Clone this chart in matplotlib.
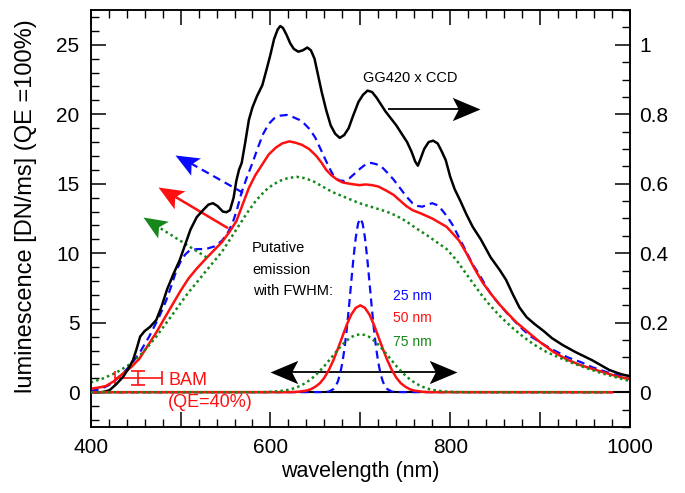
import math
import matplotlib
matplotlib.use("Agg")
import matplotlib.pyplot as plt
from matplotlib.ticker import MultipleLocator, FixedLocator, FixedFormatter
from matplotlib.path import Path
from matplotlib.markers import MarkerStyle
from matplotlib.transforms import Affine2D

plt.rcParams['font.family'] = ['Liberation Sans', 'DejaVu Sans']

# ---------------- data ----------------
# GG420 x CCD (right axis, relative)
wl_black = [400, 412, 416, 421, 428, 436, 442, 447, 451, 455, 460, 466, 473, 479, 485, 492,
            499, 505, 511, 518, 525, 531, 536, 541, 547, 551, 555, 559, 562, 565, 568, 572,
            576, 580, 585, 591, 596, 600, 604, 608, 611, 614, 618, 622, 626, 631, 636, 641,
            645, 649, 653, 657, 662, 667, 672, 677, 682, 687, 692, 698, 703, 708, 713, 718,
            723, 728, 734, 740, 746, 752, 757, 761, 764, 767, 771, 776, 781, 786, 790, 795,
            800, 805, 811, 818, 825, 834, 845, 855, 862, 870, 877, 885, 894, 904, 913, 925,
            939, 958, 977, 990, 1000]
gg420_ccd = [0.0, 0.0, 0.002, 0.006, 0.022, 0.044, 0.068, 0.092, 0.124, 0.16, 0.176, 0.188,
             0.208, 0.248, 0.296, 0.34, 0.38, 0.424, 0.468, 0.504, 0.524, 0.54, 0.544, 0.536,
             0.52, 0.518, 0.524, 0.56, 0.608, 0.64, 0.66, 0.72, 0.784, 0.82, 0.852, 0.884,
             0.932, 0.972, 1.016, 1.044, 1.054, 1.048, 1.028, 1.004, 0.988, 0.98, 0.984,
             0.992, 0.984, 0.96, 0.912, 0.864, 0.812, 0.768, 0.744, 0.732, 0.74, 0.76, 0.796,
             0.836, 0.856, 0.868, 0.864, 0.848, 0.828, 0.808, 0.788, 0.768, 0.744, 0.72,
             0.692, 0.664, 0.652, 0.672, 0.70, 0.72, 0.724, 0.716, 0.696, 0.668, 0.62, 0.584,
             0.552, 0.512, 0.476, 0.44, 0.388, 0.352, 0.324, 0.28, 0.244, 0.216, 0.196,
             0.176, 0.156, 0.136, 0.116, 0.092, 0.064, 0.052, 0.046]

# luminescence (left axis) for putative emission FWHM 25 / 50 / 75 nm
wl_25 = [400, 410, 420, 428, 435, 445, 455, 465, 476, 484, 490, 495, 500, 505, 510, 518, 528,
         538, 546, 552, 558, 563, 568, 574, 580, 586, 592, 598, 604, 611, 618, 625, 632, 638,
         644, 650, 655, 660, 665, 670, 676, 682, 688, 694, 700, 706, 712, 718, 724, 730, 737,
         744, 751, 758, 764, 769, 775, 780, 786, 791, 797, 803, 810, 818, 825, 833, 840, 847,
         855, 863, 872, 881, 890, 900, 910, 919, 931, 944, 958, 974, 987, 1000]
lum_25 = [0.1, 0.2, 0.5, 0.9, 1.3, 2.0, 2.9, 4.0, 5.4, 6.6, 7.7, 8.7, 9.4, 9.9, 10.2, 10.3,
          10.3, 10.5, 10.9, 11.4, 12.2, 13.2, 14.4, 15.5, 16.5, 17.6, 18.6, 19.3, 19.7, 19.9,
          19.95, 19.8, 19.6, 19.3, 18.9, 18.3, 17.6, 16.9, 16.2, 15.6, 15.25, 15.2, 15.4,
          15.75, 16.1, 16.4, 16.5, 16.4, 16.2, 15.8, 15.3, 14.7, 14.1, 13.6, 13.4, 13.35,
          13.5, 13.6, 13.45, 13.1, 12.6, 12.0, 11.1, 10.1, 9.2, 8.4, 7.6, 6.9, 6.3, 5.7, 5.1,
          4.5, 4.0, 3.6, 3.2, 2.9, 2.5, 2.2, 1.8, 1.45, 1.2, 0.94]

wl_50 = [400, 410, 417, 426, 435, 445, 454, 463, 473, 481, 490, 500, 509, 518, 528, 537, 546,
         554, 562, 569, 576, 583, 591, 598, 606, 613, 621, 628, 635, 643, 651, 657, 662, 668,
         674, 680, 688, 699, 706, 713, 720, 729, 737, 744, 751, 758, 766, 773, 780, 788, 796,
         803, 810, 818, 827, 836, 845, 855, 865, 874, 887, 900, 915, 930, 945, 959, 975, 988,
         1000]
lum_50 = [0.25, 0.35, 0.45, 0.8, 1.3, 1.8, 2.4, 3.3, 4.3, 5.2, 6.2, 7.3, 8.2, 8.9, 9.6, 10.2,
          10.8, 11.5, 12.3, 13.5, 14.7, 15.6, 16.4, 17.1, 17.6, 17.9, 18.05, 17.95, 17.8,
          17.5, 17.0, 16.5, 16.0, 15.6, 15.3, 15.1, 15.0, 14.9, 14.95, 14.9, 14.8, 14.5,
          14.2, 13.8, 13.4, 13.1, 12.9, 12.7, 12.5, 12.2, 11.9, 11.4, 10.9, 10.0, 8.9, 7.9,
          7.1, 6.3, 5.6, 5.0, 4.3, 3.6, 2.9, 2.35, 1.95, 1.66, 1.35, 1.1, 0.94]

wl_75 = [400, 414, 428, 441, 454, 464, 473, 482, 490, 500, 509, 518, 528, 537, 546, 556, 565,
         574, 584, 594, 602, 610, 619, 629, 638, 647, 658, 669, 684, 699, 714, 729, 740, 751,
         762, 774, 785, 796, 807, 818, 827, 836, 845, 855, 868, 881, 894, 907, 921, 936, 951,
         967, 983, 1000]
lum_75 = [0.7, 1.0, 1.4, 1.9, 2.6, 3.3, 4.0, 4.8, 5.5, 6.4, 7.2, 7.9, 8.7, 9.4, 10.1, 11.1,
          12.0, 12.9, 13.8, 14.5, 14.9, 15.2, 15.4, 15.5, 15.4, 15.2, 14.8, 14.4, 14.0, 13.6,
          13.3, 13.0, 12.7, 12.3, 11.8, 11.3, 10.8, 10.3, 9.5, 8.5, 7.7, 6.9, 6.2, 5.5, 4.7,
          4.0, 3.4, 2.9, 2.5, 2.1, 1.75, 1.4, 1.1, 0.8]

# putative emission spectra (right axis)
wl_em25 = [400, 660, 665, 670, 672.5, 675, 677.5, 680, 682.5, 685, 687.5, 690, 692.5, 695,
           697.5, 700, 702.5, 705, 707.5, 710, 712.5, 715, 717.5, 720, 722.5, 725, 727.5,
           730, 735, 740, 980]
em_25 = [0.0, 0.0004, 0.002, 0.009, 0.017, 0.031, 0.053, 0.085, 0.128, 0.184, 0.25, 0.321,
         0.39, 0.447, 0.486, 0.5, 0.486, 0.447, 0.39, 0.321, 0.25, 0.184, 0.128, 0.085,
         0.053, 0.031, 0.017, 0.009, 0.002, 0.0004, 0.0]

wl_em50 = [400, 620, 630, 640, 645, 650, 655, 660, 665, 670, 675, 680, 685, 690, 695, 700,
           705, 710, 715, 720, 725, 730, 735, 740, 745, 750, 755, 760, 770, 780, 980]
em_50 = [0.0, 0.0002, 0.0011, 0.0046, 0.0087, 0.016, 0.026, 0.042, 0.064, 0.092, 0.125, 0.16,
         0.195, 0.224, 0.243, 0.25, 0.243, 0.224, 0.195, 0.16, 0.125, 0.092, 0.064, 0.042,
         0.026, 0.016, 0.0087, 0.0046, 0.0011, 0.0002, 0.0]

wl_em75 = [400, 580, 590, 600, 605, 615, 620, 625, 630, 635, 640, 645, 650, 655, 660, 665,
           670, 675, 680, 685, 690, 695, 700, 705, 710, 715, 720, 725, 730, 735, 740, 745,
           750, 755, 760, 765, 770, 775, 780, 785, 795, 800, 810, 820, 980]
em_75 = [0.0, 0.0001, 0.0004, 0.0012, 0.002, 0.0047, 0.0071, 0.0104, 0.0149, 0.0208, 0.0283,
         0.0375, 0.0486, 0.0614, 0.0757, 0.0911, 0.107, 0.1225, 0.137, 0.149, 0.159, 0.1647,
         0.1667, 0.1647, 0.159, 0.149, 0.137, 0.1225, 0.107, 0.0911, 0.0757, 0.0614, 0.0486,
         0.0375, 0.0283, 0.0208, 0.0149, 0.0104, 0.0071, 0.0047, 0.002, 0.0012, 0.0004,
         0.0001, 0.0]

# BAM reference point
bam_x = [453]
bam_y = [1.0]
bam_xerr = [26]
bam_yerr = [0.5]

xticks = [400, 500, 600, 700, 800, 900, 1000]
xtick_labels = ['400', '', '600', '', '800', '', '1000']
yticks_left = [0, 5, 10, 15, 20, 25]
yticks_right = [0, 0.2, 0.4, 0.6, 0.8, 1.0]
ytick_right_labels = ['0', '0.2', '0.4', '0.6', '0.8', '1']

BLUE = '#0a0aff'
RED = '#ff1010'
GREEN = '#16881a'
DASH = (3.6, 2.3)
DOT = (1.0, 1.3)

# ---------------- figure ----------------
fig = plt.figure(figsize=(6.85, 4.93), dpi=100)
ax = fig.add_axes([0.1324, 0.1339, 0.7873, 0.8458])
ax2 = ax.twinx()

ax.set_xlim(400, 1000)
ax.set_ylim(-2.5, 27.5)
ax2.set_ylim(-0.1, 1.1)

# left-axis curves
ax.plot(wl_25, lum_25, color=BLUE, lw=1.6, dashes=DASH, zorder=3)
ax.plot(wl_50, lum_50, color=RED, lw=1.8, zorder=4)
ax.plot(wl_75, lum_75, color=GREEN, lw=1.8, dashes=DOT, zorder=5)

ax.errorbar(bam_x, bam_y, xerr=bam_xerr, yerr=bam_yerr, color=RED, lw=1.2,
            capsize=5, capthick=1.2, zorder=6)

# right-axis curves
ax2.axhline(0, color='black', lw=1.5, zorder=1)
ax2.plot(wl_black, gg420_ccd, color='black', lw=1.8, zorder=2)
ax2.plot(wl_em25, em_25, color=BLUE, lw=1.6, dashes=DASH, zorder=3)
ax2.plot(wl_em50, em_50, color=RED, lw=1.8, zorder=4)
ax2.plot(wl_em75, em_75, color=GREEN, lw=1.8, dashes=DOT, zorder=5)

# stealth-like arrow head (tip at origin, pointing +x)
HEAD = Path([(0, 0), (-1, 0.42), (-0.78, 0), (-1, -0.42), (0, 0)],
            [Path.MOVETO, Path.LINETO, Path.LINETO, Path.LINETO, Path.CLOSEPOLY])


def head(a, tip, tail, color, size):
    p1 = a.transData.transform(tail)
    p2 = a.transData.transform(tip)
    ang = math.degrees(math.atan2(p2[1] - p1[1], p2[0] - p1[0]))
    m = MarkerStyle(HEAD, transform=Affine2D().rotate_deg(ang))
    a.plot([tip[0]], [tip[1]], marker=m, markersize=size, color=color,
           markeredgewidth=0, linestyle='none', zorder=9)


def arrow(a, tip, tail, color, dashes=None, lw=1.6, size=28, frac=0.85, both=False):
    bx = tail[0] + frac * (tip[0] - tail[0])
    by = tail[1] + frac * (tip[1] - tail[1])
    sx = tail[0] + (1 - frac) * (tip[0] - tail[0]) if both else tail[0]
    sy = tail[1] + (1 - frac) * (tip[1] - tail[1]) if both else tail[1]
    kw = dict(color=color, lw=lw, zorder=7, solid_capstyle='butt')
    if dashes is not None:
        kw['dashes'] = dashes
    a.plot([sx, bx], [sy, by], **kw)
    head(a, tip, tail, color, size)
    if both:
        head(a, tail, tip, color, size)


arrow(ax, (833, 20.4), (731, 20.4), 'black', lw=1.3, size=40, frac=0.85)
arrow(ax, (807, 1.46), (600, 1.46), 'black', lw=1.3, size=40, frac=0.92, both=True)
arrow(ax, (494, 17.1), (569.5, 14.35), BLUE, dashes=DASH, size=34, frac=0.78)
arrow(ax, (475, 14.8), (552.8, 11.8), RED, lw=1.8, size=36, frac=0.78)
arrow(ax, (458, 12.6), (529, 9.7), GREEN, dashes=DOT, lw=1.8, size=34, frac=0.78)

# texts
ax.text(703, 22.6, 'GG420 x CCD', fontsize=10.5, ha='left', va='center')
ax.text(579.5, 10.38, 'Putative', fontsize=10.5, ha='left', va='center')
ax.text(579.5, 8.8, 'emission', fontsize=10.5, ha='left', va='center')
ax.text(580.6, 7.28, 'with FWHM:', fontsize=10.5, ha='left', va='center')
ax.text(736, 6.92, '25 nm', fontsize=10, color=BLUE, ha='left', va='center')
ax.text(736, 5.34, '50 nm', fontsize=10, color=RED, ha='left', va='center')
ax.text(736, 3.6, '75 nm', fontsize=10, color=GREEN, ha='left', va='center')
ax.text(487, 0.87, 'BAM', fontsize=13, color=RED, ha='left', va='center')
ax.text(486, -0.72, '(QE=40%)', fontsize=13, color=RED, ha='left', va='center')

# axes styling
ax.xaxis.set_major_locator(FixedLocator(xticks))
ax.xaxis.set_major_formatter(FixedFormatter(xtick_labels))
ax.xaxis.set_minor_locator(MultipleLocator(20))
ax.yaxis.set_major_locator(FixedLocator(yticks_left))
ax.yaxis.set_minor_locator(MultipleLocator(1))
ax2.yaxis.set_major_locator(FixedLocator(yticks_right))
ax2.yaxis.set_major_formatter(FixedFormatter(ytick_right_labels))
ax2.yaxis.set_minor_locator(MultipleLocator(0.05))

ax.tick_params(axis='x', which='both', direction='in', top=True, bottom=True, labelsize=15, pad=8)
ax.tick_params(axis='y', which='both', direction='in', left=True, right=False, labelsize=15, pad=8)
ax.tick_params(which='major', length=11, width=1.1)
ax.tick_params(which='minor', length=5.5, width=1.0)
ax2.tick_params(axis='y', which='both', direction='in', labelsize=15, pad=6.5)
ax2.tick_params(which='major', length=11, width=1.1)
ax2.tick_params(which='minor', length=5.5, width=1.0)

for a in (ax, ax2):
    for s in a.spines.values():
        s.set_linewidth(1.1)

ax.set_xlabel('wavelength (nm)', fontsize=15.5)
ax.xaxis.set_label_coords(0.5, -0.082)
ax.xaxis.label.set_va('top')
ax.set_ylabel('luminescence [DN/ms] (QE =100%)', fontsize=17)
ax.yaxis.set_label_coords(-0.0996, 0.53)

fig.savefig('out.png', dpi=100)
